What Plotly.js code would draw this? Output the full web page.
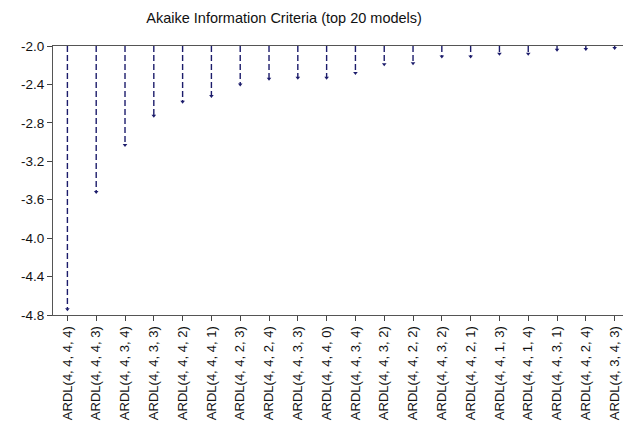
<!DOCTYPE html>
<html>
<head>
<meta charset="utf-8">
<script src="https://cdn.plot.ly/plotly-3.0.1.min.js"></script>
<style>html,body{margin:0;padding:0;background:#fff;}#chart{width:623px;height:430px;}</style>
</head>
<body>
<div id="chart"></div>
<script>
var models = ["ARDL(4, 4, 4, 4)","ARDL(4, 4, 4, 3)","ARDL(4, 4, 3, 4)","ARDL(4, 4, 3, 3)","ARDL(4, 4, 4, 2)",
  "ARDL(4, 4, 4, 1)","ARDL(4, 4, 2, 3)","ARDL(4, 4, 2, 4)","ARDL(4, 4, 3, 3)","ARDL(4, 4, 4, 0)",
  "ARDL(4, 4, 3, 4)","ARDL(4, 4, 3, 2)","ARDL(4, 4, 2, 2)","ARDL(4, 4, 3, 2)","ARDL(4, 4, 2, 1)",
  "ARDL(4, 4, 1, 3)","ARDL(4, 4, 1, 4)","ARDL(4, 4, 3, 1)","ARDL(4, 4, 2, 4)","ARDL(4, 3, 4, 3)"];
var aic = [-4.74,-3.52,-3.03,-2.725,-2.58,-2.52,-2.40,-2.34,-2.33,-2.33,
           -2.28,-2.19,-2.18,-2.11,-2.11,-2.08,-2.08,-2.04,-2.03,-2.02];
var baseline = -2.0;
var yTicks = [-2.0,-2.4,-2.8,-3.2,-3.6,-4.0,-4.4,-4.8];

// index positions (labels may repeat, so use numeric positions)
var idx = models.map(function(_, i){ return i; });
var sx = [], sy = [];
idx.forEach(function(i){ sx.push(i, i, null); sy.push(baseline, aic[i], null); });

var traces = [
  {x: sx, y: sy, type: 'scatter', mode: 'lines', hoverinfo: 'skip',
   line: {color: '#1c1c6b', width: 1.4, dash: '6px,3px'}, showlegend: false},
  {x: idx, y: aic, type: 'scatter', mode: 'markers',
   marker: {symbol: 'triangle-down', size: 4, color: '#1c1c6b'}, showlegend: false}
];

var layout = {
  width: 623, height: 430,
  margin: {l: 53, r: 0, t: 46, b: 115},
  paper_bgcolor: '#fff', plot_bgcolor: '#fff',
  font: {family: 'Liberation Sans, Arial, sans-serif', color: '#111', size: 12},
  title: {text: 'Akaike Information Criteria (top 20 models)', font: {size: 14.5, color: '#111'},
          x: 0.456, xref: 'container', xanchor: 'center', y: 0.959, yref: 'container', yanchor: 'middle'},
  xaxis: {range: [-0.5, 19.29], tickmode: 'array', tickvals: idx, ticktext: models,
          tickangle: -90, tickson: 'boundaries', ticks: 'outside', ticklen: 5, tickcolor: '#444',
          showline: true, linecolor: '#555', linewidth: 1, mirror: true,
          showgrid: false, zeroline: false, tickfont: {size: 13}},
  yaxis: {range: [-4.8, -2.0], tickmode: 'array', tickvals: yTicks,
          ticktext: yTicks.map(function(v){ return v.toFixed(1); }),
          ticks: 'outside', ticklen: 5, tickcolor: '#444',
          showline: true, linecolor: '#555', linewidth: 1,
          showgrid: false, zeroline: false, tickfont: {size: 13.5}}
};

Plotly.newPlot('chart', traces, layout, {displayModeBar: false, staticPlot: true});
</script>
</body>
</html>
